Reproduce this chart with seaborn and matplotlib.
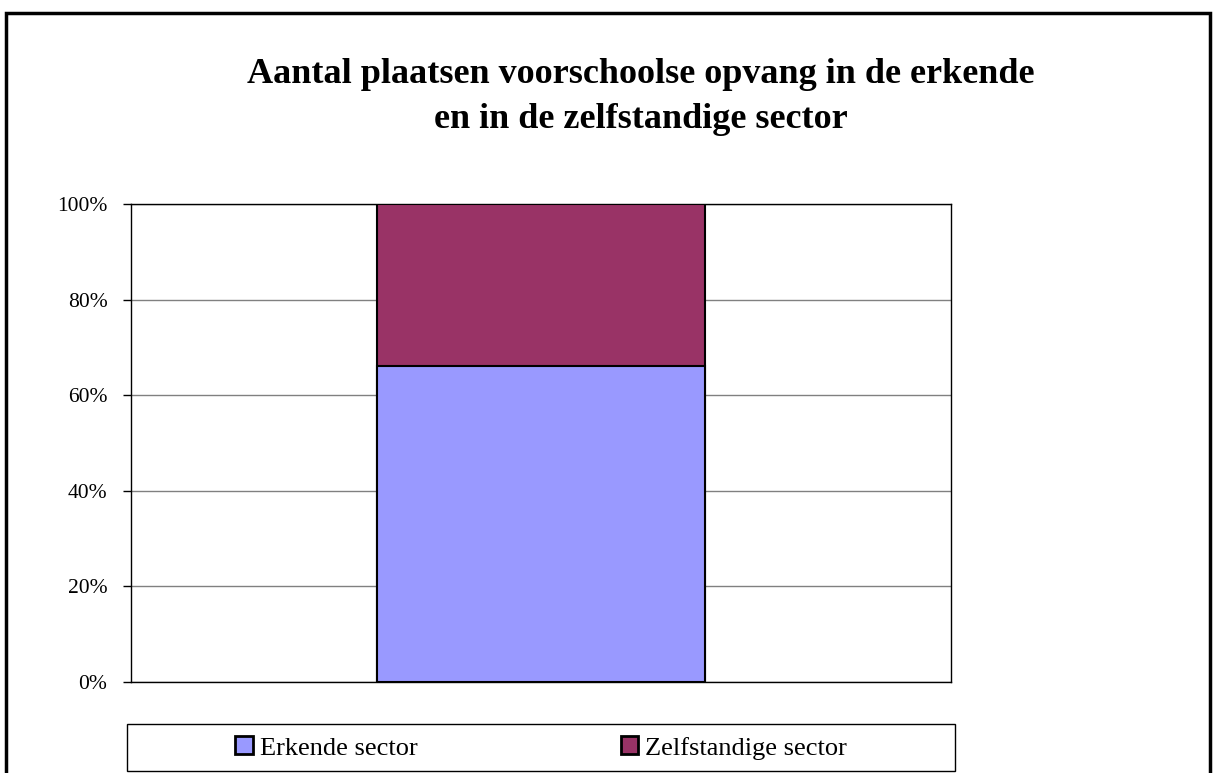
import matplotlib
matplotlib.use("Agg")
import matplotlib.pyplot as plt
import seaborn as sns
import pandas as pd
from matplotlib.patches import Rectangle, Patch
from matplotlib.ticker import PercentFormatter

categories = [""]
erkende = [66.1]
zelfstandige = [33.9]
series_names = ["Erkende sector", "Zelfstandige sector"]
title = "Aantal plaatsen voorschoolse opvang in de erkende\nen in de zelfstandige sector"
colors = ["#9999FF", "#993366"]

sns.set_style("white")
plt.rcParams['font.family'] = ['Liberation Serif', 'DejaVu Serif']
plt.rcParams['text.color'] = 'black'
plt.rcParams['ytick.color'] = 'black'
plt.rcParams['xtick.color'] = 'black'

W, H = 1216, 773
fig = plt.figure(figsize=(W / 100, H / 100), dpi=100)
ax = fig.add_axes([131 / W, 1 - 682 / H, 820 / W, 478 / H])

df = pd.DataFrame({"cat": categories,
                   "total": [e + z for e, z in zip(erkende, zelfstandige)],
                   "erk": erkende})
sns.barplot(data=df, x="cat", y="total", color=colors[1], width=0.4,
            edgecolor="black", linewidth=1.5, saturation=1, ax=ax, zorder=3)
sns.barplot(data=df, x="cat", y="erk", color=colors[0], width=0.4,
            edgecolor="black", linewidth=1.5, saturation=1, ax=ax, zorder=3)

ax.set_xlim(-0.5, 0.5)
ax.set_ylim(0, 100)
ax.set_yticks([0, 20, 40, 60, 80, 100])
ax.yaxis.set_major_formatter(PercentFormatter(decimals=0))
ax.grid(axis="y", color="#808080", linewidth=1, zorder=0)
ax.set_axisbelow(True)
ax.set_xlabel("")
ax.set_ylabel("")
ax.set_xticks([])
for s in ax.spines.values():
    s.set_visible(True)
    s.set_color("black")
    s.set_linewidth(1)
ax.tick_params(axis="y", direction="out", length=6, width=1, color="black",
               labelsize=15.5, pad=11, left=True, labelcolor="black")

fig.text(641 / W, 1 - 97 / H, title, ha="center", va="center",
         fontsize=26, fontweight="bold", linespacing=1.45, color="black")

handles = [Patch(facecolor=c, edgecolor="black", linewidth=2) for c in colors]
leg = fig.legend(handles, series_names, loc="center",
                 bbox_to_anchor=(541 / W, 1 - 748 / H),
                 ncol=2, frameon=False, fontsize=19, handlelength=0.68,
                 handleheight=0.65, handletextpad=0.25, columnspacing=7.7,
                 borderaxespad=0, borderpad=0)

fig.patches.append(Rectangle((127 / W, 1 - 771 / H), 828 / W, 47 / H,
                             transform=fig.transFigure, fill=False,
                             edgecolor="black", linewidth=1))

fig.patches.append(Rectangle((6 / W, -0.05), 1204 / W, 1 - 13 / H + 0.05,
                             transform=fig.transFigure, fill=False,
                             edgecolor="black", linewidth=2.5))

fig.savefig("out.png", dpi=100)
